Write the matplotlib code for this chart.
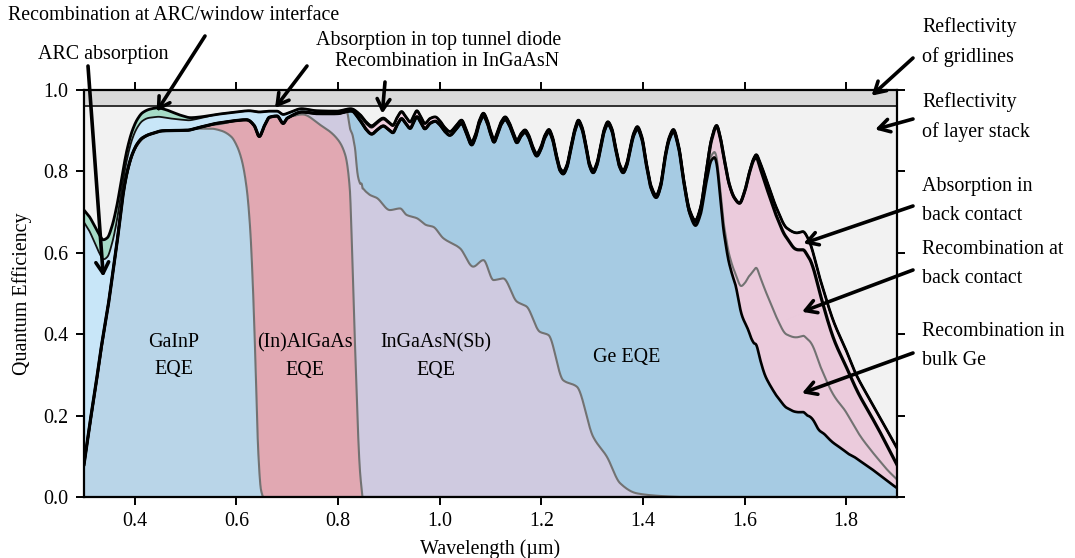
import numpy as np
import matplotlib
matplotlib.use("Agg")
import matplotlib.pyplot as plt

plt.rcParams['font.family'] = ['Liberation Serif', 'DejaVu Serif']
FS = 14.4
plt.rcParams['font.size'] = FS

# ---------------- data ----------------
# upper boundary of absorbed light (above it: reflection of the layer stack)
wl_top = [0.300, 0.310, 0.320, 0.330, 0.338, 0.346, 0.355, 0.365, 0.375, 0.385, 0.395, 0.405,
          0.415, 0.430, 0.445, 0.460, 0.475, 0.490, 0.510, 0.530, 0.555, 0.580, 0.600, 0.625,
          0.645, 0.665, 0.680, 0.692, 0.705, 0.728, 0.758, 0.797, 0.825, 0.843, 0.855, 0.866,
          0.877, 0.889, 0.899, 0.908, 0.916, 0.925, 0.933, 0.942, 0.949, 0.955, 0.963, 0.971,
          0.981, 0.991, 1.000, 1.010, 1.020, 1.032, 1.043, 1.053, 1.063, 1.070, 1.078, 1.086,
          1.094, 1.100, 1.107, 1.113, 1.121, 1.129, 1.137, 1.145, 1.152, 1.160, 1.168, 1.175,
          1.183, 1.191, 1.199, 1.207, 1.215, 1.222, 1.230, 1.237, 1.243, 1.250, 1.258, 1.266,
          1.273, 1.280, 1.288, 1.295, 1.302, 1.309, 1.317, 1.324, 1.331, 1.339, 1.346, 1.354,
          1.361, 1.368, 1.375, 1.382, 1.389, 1.398, 1.407, 1.416, 1.426, 1.435, 1.443, 1.452,
          1.460, 1.470, 1.481, 1.492, 1.503, 1.513, 1.524, 1.535, 1.545, 1.552, 1.560, 1.570,
          1.580, 1.590, 1.600, 1.610, 1.618, 1.623, 1.631, 1.644, 1.663, 1.683, 1.703, 1.715,
          1.725, 1.750, 1.775, 1.800, 1.820, 1.850, 1.880, 1.900]
top_curve = [0.705, 0.690, 0.668, 0.645, 0.632, 0.637, 0.665, 0.718, 0.790, 0.855, 0.900, 0.928,
             0.944, 0.953, 0.956, 0.952, 0.945, 0.938, 0.932, 0.934, 0.939, 0.943, 0.946, 0.949,
             0.946, 0.948, 0.948, 0.940, 0.945, 0.954, 0.949, 0.948, 0.954, 0.940, 0.922, 0.912,
             0.922, 0.931, 0.922, 0.914, 0.932, 0.947, 0.935, 0.922, 0.937, 0.949, 0.934, 0.918,
             0.930, 0.934, 0.925, 0.908, 0.898, 0.912, 0.926, 0.900, 0.873, 0.890, 0.925, 0.943,
             0.925, 0.900, 0.879, 0.895, 0.922, 0.934, 0.920, 0.895, 0.877, 0.893, 0.902, 0.890,
             0.862, 0.844, 0.860, 0.889, 0.903, 0.885, 0.840, 0.808, 0.800, 0.815, 0.860, 0.905,
             0.926, 0.910, 0.865, 0.820, 0.803, 0.820, 0.865, 0.905, 0.922, 0.905, 0.862, 0.818,
             0.803, 0.820, 0.860, 0.895, 0.910, 0.885, 0.820, 0.765, 0.742, 0.770, 0.835, 0.885,
             0.903, 0.865, 0.775, 0.705, 0.680, 0.710, 0.795, 0.880, 0.913, 0.885, 0.830, 0.768,
             0.735, 0.722, 0.750, 0.800, 0.832, 0.841, 0.820, 0.776, 0.710, 0.661, 0.649, 0.652,
             0.635, 0.530, 0.432, 0.360, 0.300, 0.232, 0.165, 0.120]

# recombination at ARC/window interface
wl_window = [0.30, 0.32, 0.34, 0.36, 0.38, 0.40, 0.42, 0.44, 0.46, 0.48, 0.50, 0.53, 0.56]
window_recomb = [0.030, 0.040, 0.048, 0.040, 0.025, 0.020, 0.020, 0.022, 0.020, 0.014, 0.008, 0.003, 0.0]

# ARC absorption + absorption in top tunnel diode
wl_arc = [0.30, 0.32, 0.34, 0.36, 0.38, 0.40, 0.42, 0.44, 0.46, 0.48, 0.50, 0.53, 0.56, 0.60,
          0.62, 0.635, 0.645, 0.655, 0.665, 0.68, 0.692, 0.70, 0.73, 0.80, 0.85, 0.90, 1.00]
arc_abs = [0.595, 0.380, 0.170, 0.070, 0.032, 0.039, 0.042, 0.038, 0.032, 0.028, 0.025, 0.022,
           0.022, 0.021, 0.022, 0.035, 0.060, 0.035, 0.015, 0.012, 0.022, 0.012, 0.008, 0.006,
           0.005, 0.003, 0.0]

# recombination in InGaAsN
wl_nrec = [0.83, 0.85, 0.87, 0.90, 0.95, 1.00, 1.10, 1.20, 1.30, 1.40, 1.50, 1.54, 1.56]
ingaasn_recomb = [0.0, 0.012, 0.016, 0.016, 0.014, 0.010, 0.007, 0.006, 0.006, 0.006, 0.005, 0.003, 0.0]

# Ge bottom-cell losses
wl_ge = [1.48, 1.50, 1.52, 1.54, 1.56, 1.58, 1.60, 1.62, 1.64, 1.66, 1.68, 1.70, 1.72, 1.74,
         1.76, 1.78, 1.80, 1.82, 1.84, 1.86, 1.88, 1.90]
ge_backcontact_abs = [0, 0, 0, 0, 0, 0, 0, 0.005, 0.018, 0.020, 0.023, 0.040, 0.045, 0.035,
                      0.040, 0.042, 0.040, 0.035, 0.035, 0.035, 0.038, 0.041]
ge_backcontact_recomb = [0, 0.003, 0.010, 0.052, 0.166, 0.180, 0.225, 0.272, 0.262, 0.250, 0.240,
                         0.217, 0.209, 0.188, 0.160, 0.133, 0.112, 0.100, 0.090, 0.077, 0.059, 0.036]
ge_bulk_recomb = [0, 0.004, 0.008, 0.013, 0.020, 0.025, 0.095, 0.183, 0.210, 0.195, 0.180, 0.183,
                  0.188, 0.175, 0.138, 0.113, 0.098, 0.070, 0.051, 0.038, 0.028, 0.021]

# subcell EQEs
wl_gainp = [0.300, 0.354, 0.365, 0.377, 0.390, 0.400, 0.420, 0.450, 0.500, 0.520, 0.550, 0.570,
            0.590, 0.600, 0.610, 0.620, 0.627, 0.632, 0.637, 0.643, 0.648, 0.652]
eqe_gainp = [0.080, 0.530, 0.630, 0.745, 0.820, 0.855, 0.885, 0.900, 0.902, 0.905, 0.905, 0.900,
             0.885, 0.865, 0.830, 0.760, 0.660, 0.530, 0.350, 0.110, 0.020, 0.0]

wl_algaas = [0.500, 0.530, 0.560, 0.580, 0.600, 0.610, 0.620, 0.627, 0.632, 0.637, 0.643, 0.648,
             0.655, 0.665, 0.680, 0.700, 0.730, 0.764, 0.797, 0.814, 0.823, 0.827, 0.833, 0.843, 0.848]
eqe_algaas = [0.0, 0.005, 0.012, 0.025, 0.060, 0.096, 0.166, 0.262, 0.388, 0.557, 0.780, 0.874,
              0.912, 0.935, 0.938, 0.935, 0.940, 0.915, 0.882, 0.841, 0.759, 0.630, 0.386, 0.066, 0.0]

wl_ingaasn = [0.720, 0.730, 0.764, 0.797, 0.814, 0.817, 0.823, 0.827, 0.830, 0.833, 0.837, 0.843,
              0.848, 0.855, 0.863, 0.876, 0.902, 0.922, 0.935, 0.955, 0.974, 0.987, 1.007, 1.040,
              1.066, 1.086, 1.106, 1.125, 1.152, 1.171, 1.197, 1.214, 1.243, 1.270, 1.302, 1.329,
              1.355, 1.388, 1.440, 1.470]
eqe_ingaasn = [0.0, 0.010, 0.035, 0.068, 0.110, 0.125, 0.150, 0.265, 0.372, 0.474, 0.570, 0.705,
               0.758, 0.750, 0.742, 0.735, 0.705, 0.709, 0.693, 0.685, 0.668, 0.664, 0.636, 0.611,
               0.566, 0.582, 0.533, 0.537, 0.480, 0.468, 0.406, 0.398, 0.287, 0.271, 0.148, 0.099,
               0.034, 0.009, 0.002, 0.0]

gridline_shading = 0.96

region_labels = ["GaInP\nEQE", "(In)AlGaAs\nEQE", "InGaAsN(Sb)\nEQE", "Ge EQE"]
region_label_pos = [(0.476, 0.346), (0.735, 0.346), (0.993, 0.346), (1.368, 0.342)]


# ---------------- smooth (monotone cubic) rendering through the read points ----------------
def smooth_curve(xk, yk, xq):
    xk = np.asarray(xk, float)
    yk = np.asarray(yk, float)
    h = np.diff(xk)
    d = np.diff(yk) / h
    m = np.zeros_like(yk)
    m[0], m[-1] = d[0], d[-1]
    for k in range(1, len(xk) - 1):
        if d[k - 1] * d[k] > 0:
            w1 = 2 * h[k] + h[k - 1]
            w2 = h[k] + 2 * h[k - 1]
            m[k] = (w1 + w2) / (w1 / d[k - 1] + w2 / d[k])
    out = np.zeros_like(xq)
    inside = (xq >= xk[0]) & (xq <= xk[-1])
    xi = xq[inside]
    idx = np.clip(np.searchsorted(xk, xi) - 1, 0, len(xk) - 2)
    t = (xi - xk[idx]) / h[idx]
    h00 = 2 * t**3 - 3 * t**2 + 1
    h10 = t**3 - 2 * t**2 + t
    h01 = -2 * t**3 + 3 * t**2
    h11 = t**3 - t**2
    out[inside] = (h00 * yk[idx] + h10 * h[idx] * m[idx] +
                   h01 * yk[idx + 1] + h11 * h[idx] * m[idx + 1])
    return out


x = np.linspace(0.3, 1.9, 6001)

T0 = smooth_curve(wl_top, top_curve, x)
B1 = T0 - smooth_curve(wl_window, window_recomb, x)
B2 = B1 - smooth_curve(wl_arc, arc_abs, x)
B3 = B2 - smooth_curve(wl_nrec, ingaasn_recomb, x)
B4 = B3 - smooth_curve(wl_ge, ge_backcontact_abs, x)
B5 = B4 - smooth_curve(wl_ge, ge_backcontact_recomb, x)
Tb = B5 - smooth_curve(wl_ge, ge_bulk_recomb, x)          # total EQE
C1 = np.minimum(smooth_curve(wl_gainp, eqe_gainp, x), Tb)
C2 = np.minimum(C1 + smooth_curve(wl_algaas, eqe_algaas, x), Tb)
C3 = np.minimum(C2 + smooth_curve(wl_ingaasn, eqe_ingaasn, x), Tb)

# ---------------- figure ----------------
W, H = 1075, 558
fig = plt.figure(figsize=(W / 100, H / 100), dpi=100)
ax = fig.add_axes([84 / W, 61 / H, 813 / W, 407 / H])

ax.fill_between(x, gridline_shading, 1.0, color='#d9d9d9', lw=0)
ax.fill_between(x, T0, gridline_shading, color='#f2f2f2', lw=0)
ax.fill_between(x, B1, T0, color='#a6dcc7', lw=0)
ax.fill_between(x, B2, B1, color='#c8e6f8', lw=0)
ax.fill_between(x, B3, B2, color='#f1d0e0', lw=0)
ax.fill_between(x, B4, B3, color='#f3dfe9', lw=0)
ax.fill_between(x, B5, B4, color='#ebcbdc', lw=0)
ax.fill_between(x, Tb, B5, color='#ebcbdc', lw=0)
ax.fill_between(x, C3, Tb, color='#a6cbe3', lw=0)
ax.fill_between(x, C2, C3, color='#cfcae0', lw=0)
ax.fill_between(x, C1, C2, color='#e1a8b2', lw=0)
ax.fill_between(x, 0, C1, color='#b9d5e8', lw=0)

ax.axhline(gridline_shading, color='#222222', lw=1.3)

gray = '#727272'
for c in (C1, C2, C3):
    ax.plot(x, c, color=gray, lw=1.5)
ax.plot(x, B5, color=gray, lw=1.5)
ax.plot(x, B3, color='#555555', lw=1.0)
ax.plot(x, B2, color='#111111', lw=1.3)
ax.plot(x, B1, color='#111111', lw=1.3)
ax.plot(x, Tb, color='black', lw=1.9)
ax.plot(x, B4, color='black', lw=2.3)
ax.plot(x, T0, color='black', lw=2.0)

ax.set_xlim(0.3, 1.9)
ax.set_ylim(0.0, 1.0)
ax.set_xticks([0.4, 0.6, 0.8, 1.0, 1.2, 1.4, 1.6, 1.8])
ax.set_xticklabels(['0.4', '0.6', '0.8', '1.0', '1.2', '1.4', '1.6', '1.8'])
ax.set_yticks([0.0, 0.2, 0.4, 0.6, 0.8, 1.0])
ax.set_yticklabels(['0.0', '0.2', '0.4', '0.6', '0.8', '1.0'])
ax.tick_params(direction='out', top=True, right=True, length=6, width=1.4, labelsize=FS, pad=5)
for s in ax.spines.values():
    s.set_linewidth(1.6)
ax.set_xlabel('Wavelength (\u00b5m)', fontsize=FS, labelpad=6)
ax.set_ylabel('Quantum Efficiency', fontsize=FS, labelpad=8)

for lab, (lx, ly) in zip(region_labels, region_label_pos):
    ax.text(lx, ly, lab, ha='center', va='center', fontsize=FS, linespacing=1.6)


def fig_text(px, py, s, ha='left'):
    fig.text(px / W, 1 - py / H, s, ha=ha, va='center', fontsize=FS, linespacing=1.65)


def arrow(px, py, lam, val):
    ax.annotate('', xy=(lam, val), xycoords='data', xytext=(px, H - py),
                textcoords='figure pixels', annotation_clip=False,
                arrowprops=dict(arrowstyle='->,head_length=0.55,head_width=0.32', lw=2.6,
                                color='black', shrinkA=0, shrinkB=0))


fig_text(8, 15, 'Recombination at ARC/window interface')
fig_text(38, 55, 'ARC absorption')
fig_text(439, 40, 'Absorption in top tunnel diode', ha='center')
fig_text(447, 62, 'Recombination in InGaAsN', ha='center')
fig_text(922, 42, 'Reflectivity\nof gridlines')
fig_text(922, 117, 'Reflectivity\nof layer stack')
fig_text(922, 201, 'Absorption in\nback contact')
fig_text(922, 264, 'Recombination at\nback contact')
fig_text(922, 346, 'Recombination in\nbulk Ge')

arrow(205, 36, 0.443, 0.947)
arrow(88, 66, 0.338, 0.541)
arrow(307, 66, 0.676, 0.956)
arrow(385, 82, 0.887, 0.942)
arrow(913, 58, 1.850, 0.986)
arrow(913, 119, 1.857, 0.903)
arrow(913, 206, 1.716, 0.623)
arrow(913, 270, 1.713, 0.455)
arrow(913, 353, 1.713, 0.255)

fig.savefig('out.png', dpi=100)
